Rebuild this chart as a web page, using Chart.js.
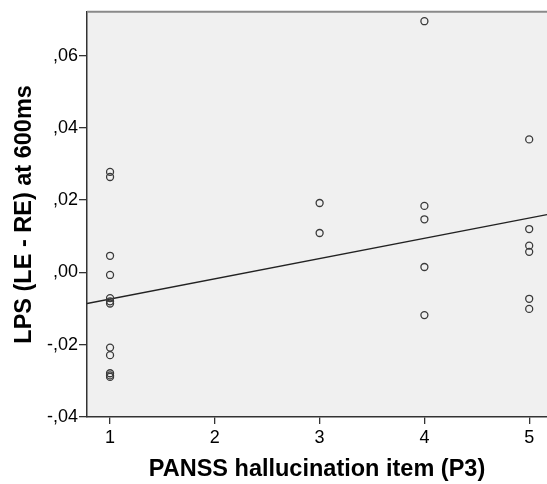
<!DOCTYPE html>
<html>
<head>
<meta charset="utf-8">
<script src="https://cdn.jsdelivr.net/npm/chart.js@4"></script>
<style>
  html, body { margin: 0; padding: 0; background: #fff; }
  canvas { display: block; }
</style>
</head>
<body>
<canvas id="chart" width="547" height="484"></canvas>
<script>
// PANSS P3 score per patient and the LPS difference
var scoreX = [1, 1, 1, 1, 1, 1, 1, 1, 1, 1, 1, 1,
              3, 3,
              4, 4, 4, 4, 4,
              5, 5, 5, 5, 5, 5]
var lpsY = [0.0278, 0.0264, 0.0046, -0.0007, -0.0071, -0.0080, -0.0086, -0.0208, -0.0229, -0.0279, -0.0285, -0.0289,
            0.0192, 0.0109,
            0.0695, 0.0184, 0.0147, 0.0015, -0.0118,
            0.0368, 0.0120, 0.0074, 0.0057, -0.0073, -0.0101]

// fit line ends, at the plot edges
var fitX = [0.78, 5.17]
var fitY = [-0.0086, 0.0160]

var xTicks = [1, 2, 3, 4, 5]
var yTicks = [-0.04, -0.02, 0, 0.02, 0.04, 0.06]

var fontFamily = '"Liberation Sans", Arial, sans-serif'

function commaLabel(v) {
    var s = Math.abs(v).toFixed(2).replace('.', ',').replace(/^0/, '')
    return (v < -1e-9 ? '-' : '') + s
}

var plotFrame = {
    id: 'plotFrame',
    beforeDraw: function (chart) {
        var a = chart.chartArea
        var ctx = chart.ctx
        ctx.save()
        ctx.fillStyle = '#f0f0f0'
        ctx.fillRect(a.left, a.top, a.right - a.left, a.bottom - a.top)
        ctx.restore()
    },
    afterDraw: function (chart) {
        var a = chart.chartArea
        var ctx = chart.ctx
        ctx.save()
        ctx.strokeStyle = '#8a8a8a'
        ctx.lineWidth = 2
        ctx.beginPath()
        ctx.moveTo(a.left, a.top)
        ctx.lineTo(a.right, a.top)
        ctx.stroke()
        ctx.restore()
    }
}

var points = scoreX.map((x, i) => ({ x: x, y: lpsY[i] }))
var fitLine = fitX.map((x, i) => ({ x: x, y: fitY[i] }))

new Chart(document.getElementById('chart'), {
    type: 'scatter',
    data: {
        datasets: [{
            data: points,
            pointStyle: 'circle',
            pointRadius: 3.5,
            pointBorderWidth: 1.3,
            pointBorderColor: '#3a3a3a',
            pointBackgroundColor: 'rgba(0,0,0,0)',
            pointHoverRadius: 3.5
        }, {
            type: 'line',
            data: fitLine,
            borderColor: '#222',
            borderWidth: 1.4,
            pointRadius: 0,
            fill: false
        }]
    },
    options: {
        responsive: false,
        animation: false,
        layout: { autoPadding: false, padding: { top: 10, right: 0, left: 0, bottom: 0 } },
        plugins: {
            legend: { display: false },
            tooltip: { enabled: false }
        },
        scales: {
            x: {
                type: 'linear',
                min: fitX[0],
                max: fitX[1],
                afterFit: function (scale) { scale.height = 67 },
                afterBuildTicks: function (scale) {
                    scale.ticks = xTicks.map(v => ({ value: v }))
                },
                grid: { drawOnChartArea: false, drawTicks: true, tickLength: 7, color: '#333', lineWidth: 1.3 },
                border: { display: true, color: '#333', width: 1.5 },
                ticks: {
                    color: '#000',
                    padding: 3,
                    font: { family: fontFamily, size: 18 },
                    callback: v => String(v)
                },
                title: {
                    display: true,
                    text: 'PANSS hallucination item (P3)',
                    color: '#000',
                    font: { family: fontFamily, size: 23.5, weight: 'bold' },
                    padding: { top: 4, bottom: 0 }
                }
            },
            y: {
                type: 'linear',
                min: -0.04,
                max: 0.0721,
                afterFit: function (scale) { scale.width = 87 },
                afterBuildTicks: function (scale) {
                    scale.ticks = yTicks.map(v => ({ value: v }))
                },
                grid: { drawOnChartArea: false, drawTicks: true, tickLength: 8, color: '#333', lineWidth: 1.3 },
                border: { display: true, color: '#333', width: 1.5 },
                ticks: {
                    color: '#000',
                    padding: 1,
                    font: { family: fontFamily, size: 18 },
                    callback: v => commaLabel(v)
                },
                title: {
                    display: true,
                    text: 'LPS (LE - RE) at 600ms',
                    color: '#000',
                    font: { family: fontFamily, size: 23.5, weight: 'bold' },
                    padding: { top: 10, bottom: 0 }
                }
            }
        }
    },
    plugins: [plotFrame]
})
</script>
</body>
</html>
